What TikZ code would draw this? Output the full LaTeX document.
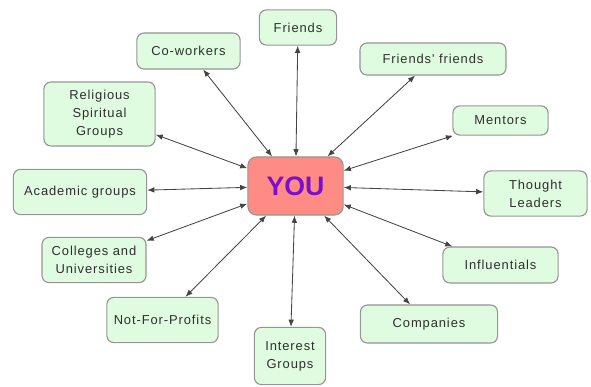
\documentclass[tikz,border=0pt]{standalone}
\usepackage{fontspec}
\setmainfont{Liberation Sans}
\newfontfamily\boxfont[LetterSpace=7]{Liberation Sans}
\usetikzlibrary{arrows.meta}
\definecolor{boxfill}{HTML}{E0FCE0}
\definecolor{boxline}{HTML}{959595}
\definecolor{youfill}{HTML}{FF8C84}
\definecolor{youtext}{HTML}{7A10CC}
\definecolor{txt}{HTML}{2E2E2E}
\definecolor{link}{HTML}{444444}
\begin{document}
\begin{tikzpicture}[x=0.025cm,y=-0.025cm,
    group/.style={draw=boxline,line width=0.8pt,fill=boxfill,rounded corners=5pt,
      align=center,text=txt,font=\boxfont\fontsize{9.2}{12.8}\selectfont,inner sep=1pt},
    you/.style={draw=boxline,line width=0.8pt,fill=youfill,rounded corners=6pt,
      text=youtext,font=\fontsize{19}{22}\selectfont\bfseries,
      minimum width=2.38cm,minimum height=1.45cm},
    link/.style={draw=link,line width=0.6pt,{Latex[length=1.8mm,width=1.4mm]}-{Latex[length=1.8mm,width=1.4mm]}}]
  \useasboundingbox (0,0) rectangle (591,387);
  \node[you] (you) at (295.5,186) {YOU};
  \node[group,minimum width=1.93cm,minimum height=0.88cm] (friends) at (298,27.5) {Friends};
  \node[group,minimum width=2.58cm,minimum height=0.9cm] (coworkers) at (188.5,51) {Co-workers};
  \node[group,minimum width=2.78cm,minimum height=1.6cm] (religious) at (99.5,114) {Religious\\Spiritual\\Groups};
  \node[group,minimum width=3.33cm,minimum height=1.13cm] (academic) at (80,192) {Academic groups};
  \node[group,minimum width=2.6cm,minimum height=1.13cm] (colleges) at (94,260) {Colleges and\\Universities};
  \node[group,minimum width=2.78cm,minimum height=1.13cm] (notforprofits) at (162.5,320) {Not-For-Profits};
  \node[group,minimum width=1.78cm,minimum height=1.43cm] (interest) at (290,356) {Interest\\Groups};
  \node[group,minimum width=3.43cm,minimum height=0.95cm] (companies) at (429,324) {Companies};
  \node[group,minimum width=2.88cm,minimum height=0.9cm] (influentials) at (500.5,265) {Influentials};
  \node[group,minimum width=2.58cm,minimum height=1.13cm] (thought) at (535.5,193.5) {Thought\\Leaders};
  \node[group,minimum width=2.38cm,minimum height=0.73cm] (mentors) at (500.5,120.5) {Mentors};
  \node[group,minimum width=3.65cm,minimum height=0.8cm] (ffriends) at (433,59) {Friends' friends};
  \begin{scope}[link]
    \draw (you) -- (friends);
    \draw (you) -- (coworkers);
    \draw (you) -- (religious);
    \draw (you) -- (academic);
    \draw (you) -- (colleges);
    \draw (you) -- (notforprofits);
    \draw (you) -- (interest);
    \draw (you) -- (companies);
    \draw (you) -- (influentials);
    \draw (you) -- (thought);
    \draw (you) -- (mentors);
    \draw (you) -- (ffriends);
  \end{scope}
\end{tikzpicture}
\end{document}
